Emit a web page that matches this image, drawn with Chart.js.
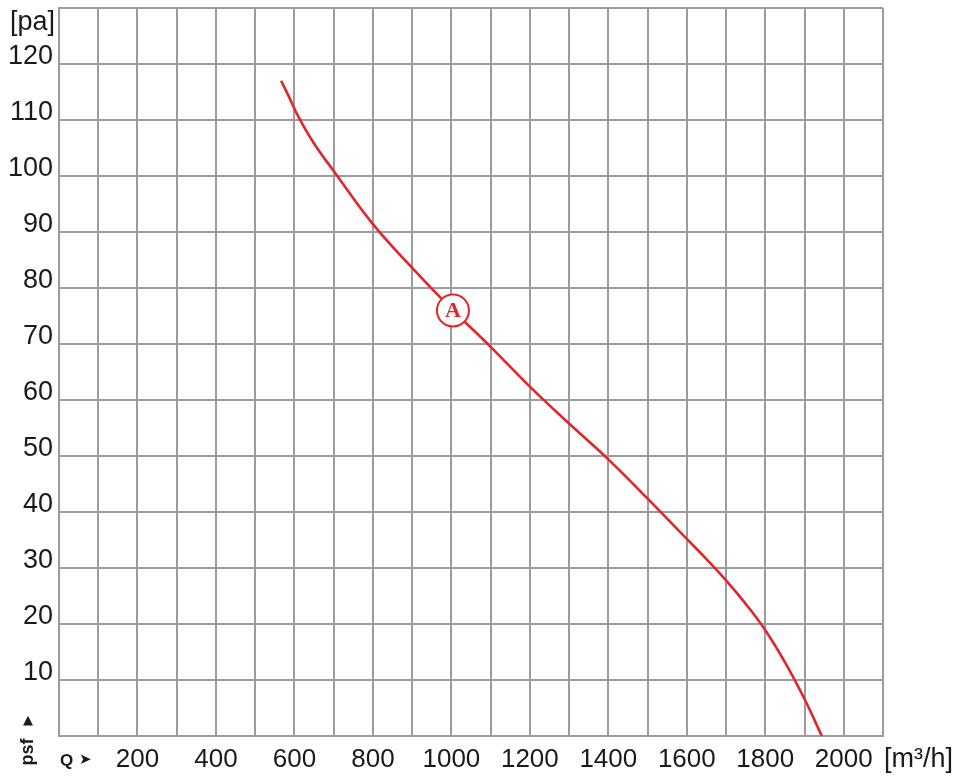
<!DOCTYPE html>
<html>
<head>
<meta charset="utf-8">
<script src="https://cdn.jsdelivr.net/npm/chart.js@4/dist/chart.umd.min.js"></script>
<style>
  html, body { margin: 0; padding: 0; background: #ffffff; }
  #wrap { width: 961px; height: 784px; position: relative; overflow: hidden; }
  #c { position: absolute; left: 0; top: -10px; }
</style>
</head>
<body>
<div id="wrap"><canvas id="c" width="961" height="794"></canvas></div>
<script>
// ---- data ----
const flow = [566, 585, 610, 650, 700, 800, 900, 1000, 1100, 1200, 1300, 1400, 1500, 1600, 1650, 1700, 1750, 1800, 1850, 1900, 1944];
const pressure = [117, 114.3, 110.6, 105.8, 100.9, 91.4, 83.6, 76.3, 69.5, 62.4, 55.8, 49.4, 42.4, 35.2, 31.6, 27.8, 23.6, 18.9, 13.2, 6.6, 0];
const markerX = [1004];
const markerY = [76];
const markerText = ['A'];
const xTickLabels = [200, 400, 600, 800, 1000, 1200, 1400, 1600, 1800, 2000];
const yTickLabels = [10, 20, 30, 40, 50, 60, 70, 80, 90, 100, 110, 120];
const yUnit = '[pa]';
const xUnit = '[m³/h]';
const yName = 'psf';
const xName = 'Q';

const RED = '#e2252b';
const GRID = '#9c9c9c';
const TXT = '#1a1a1a';
const SANS = '"Liberation Sans", Arial, Helvetica, sans-serif';

const curve = flow.map((x, i) => ({ x: x, y: pressure[i] }));
const marks = markerX.map((x, i) => ({ x: x, y: markerY[i] }));

const extras = {
  id: 'extras',
  afterDatasetsDraw(chart) {
    const ctx = chart.ctx;
    const meta = chart.getDatasetMeta(0);
    ctx.save();
    ctx.fillStyle = RED;
    ctx.font = 'bold 22px "Liberation Serif", "Times New Roman", serif';
    ctx.textAlign = 'center';
    ctx.textBaseline = 'middle';
    meta.data.forEach((el, i) => {
      ctx.fillText(markerText[i], el.x, el.y + 1);
    });
    ctx.restore();
  },
  afterDraw(chart) {
    const ctx = chart.ctx;
    const a = chart.chartArea;
    ctx.save();
    ctx.fillStyle = TXT;
    ctx.font = '27px ' + SANS;
    ctx.textAlign = 'right';
    ctx.textBaseline = 'middle';
    ctx.fillText(yUnit, a.left - 4, a.top + 15);
    ctx.textAlign = 'left';
    ctx.fillText(xUnit, a.right + 1, a.bottom + 24);
    ctx.save();
    ctx.translate(28, a.bottom + 16);
    ctx.rotate(-Math.PI / 2);
    ctx.font = 'bold 18px ' + SANS;
    ctx.textAlign = 'center';
    ctx.textBaseline = 'middle';
    ctx.fillText(yName, 0, 0);
    ctx.restore();
    ctx.font = '13px "DejaVu Sans", sans-serif';
    ctx.textAlign = 'center';
    ctx.textBaseline = 'middle';
    ctx.fillText('▲', 28, a.bottom - 15);
    ctx.font = 'bold 17px ' + SANS;
    ctx.textAlign = 'left';
    ctx.fillText(xName, 60, a.bottom + 25);
    ctx.font = '15px "DejaVu Sans", sans-serif';
    ctx.fillText('➤', 79, a.bottom + 24);
    ctx.restore();
  }
};

new Chart(document.getElementById('c'), {
  type: 'line',
  data: {
    datasets: [
      {
        label: 'A-marker',
        data: marks,
        order: 0,
        showLine: false,
        pointStyle: 'circle',
        pointRadius: 16,
        pointBorderWidth: 2,
        pointBorderColor: RED,
        pointBackgroundColor: '#ffffff',
        pointHoverRadius: 16
      },
      {
        label: 'A',
        data: curve,
        order: 1,
        borderColor: RED,
        borderWidth: 2.6,
        pointRadius: 0,
        tension: 0.4,
        fill: false
      }
    ]
  },
  options: {
    responsive: false,
    animation: false,
    devicePixelRatio: 1,
    layout: { padding: { top: 8, right: 78, bottom: 0, left: 0 } },
    plugins: { legend: { display: false }, tooltip: { enabled: false } },
    scales: {
      x: {
        type: 'linear',
        min: 0,
        max: 2100,
        afterFit(s) { s.height = 48; s.paddingLeft = 0; s.paddingRight = 0; },
        border: { display: true, color: GRID, width: 2 },
        grid: { color: GRID, lineWidth: 2, drawTicks: false, tickLength: 0 },
        ticks: {
          stepSize: 100,
          autoSkip: false,
          maxRotation: 0,
          padding: 8,
          color: TXT,
          font: { family: SANS, size: 26 },
          callback: (v) => xTickLabels.includes(v) ? String(v) : ''
        }
      },
      y: {
        type: 'linear',
        min: 0,
        max: 130,
        afterFit(s) { s.width = 59; s.paddingTop = 0; s.paddingBottom = 0; },
        border: { display: true, color: GRID, width: 2 },
        grid: { color: GRID, lineWidth: 2, drawTicks: false, tickLength: 0 },
        ticks: {
          stepSize: 10,
          autoSkip: false,
          padding: 6,
          labelOffset: -7,
          color: TXT,
          font: { family: SANS, size: 27 },
          callback: (v) => yTickLabels.includes(v) ? String(v) : ''
        }
      }
    }
  },
  plugins: [extras]
});
</script>
</body>
</html>
